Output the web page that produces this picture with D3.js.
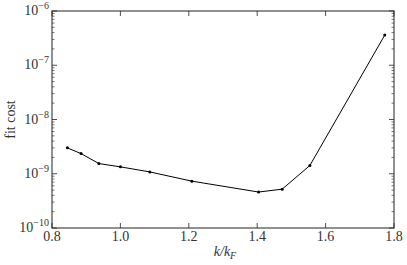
<!DOCTYPE html>
<html>
<head>
<meta charset="utf-8">
<script src="https://d3js.org/d3.v7.min.js"></script>
<style>
  body { margin: 0; background: #fff; }
  svg text { font-family: "Liberation Serif", "DejaVu Serif", serif; fill: #333; }
</style>
</head>
<body>
<div id="chart"></div>
<script>
const kRatio = [0.845, 0.885, 0.937, 1.0, 1.086, 1.209, 1.404, 1.473, 1.554, 1.773]
const fitCost = [3.0e-9, 2.35e-9, 1.54e-9, 1.34e-9, 1.08e-9, 7.3e-10, 4.6e-10, 5.2e-10, 1.42e-9, 3.6e-7]
const xTicks = [0.8, 1.0, 1.2, 1.4, 1.6, 1.8]
const yExps = [-10, -9, -8, -7, -6]

const w = 407, h = 265
const m = { top: 11, right: 13, bottom: 37, left: 52 }

const svg = d3.select("#chart").append("svg")
    .attr("width", w).attr("height", h)

const x = d3.scaleLinear().domain([0.8, 1.8]).range([m.left, w - m.right])
const y = d3.scaleLog().domain([1e-10, 1e-6]).range([h - m.bottom, m.top])

const minorY = []
for (let e = -10; e < -6; e++) {
    for (let k = 2; k <= 9; k++) minorY.push(k * Math.pow(10, e))
}

// ticks pointing inward on all four sides
const tickCol = "#222"
function addYTicks(xPos, dir) {
    svg.append("g").selectAll("line.major").data(yExps).enter().append("line")
        .attr("x1", xPos).attr("x2", xPos + dir * 5)
        .attr("y1", d => y(Math.pow(10, d))).attr("y2", d => y(Math.pow(10, d)))
        .attr("stroke", tickCol).attr("stroke-width", 0.8)
    svg.append("g").selectAll("line.minor").data(minorY).enter().append("line")
        .attr("x1", xPos).attr("x2", xPos + dir * 2.5)
        .attr("y1", d => y(d)).attr("y2", d => y(d))
        .attr("stroke", tickCol).attr("stroke-width", 0.6)
}
addYTicks(m.left, 1)
addYTicks(w - m.right, -1)

function addXTicks(yPos, dir) {
    svg.append("g").selectAll("line").data(xTicks).enter().append("line")
        .attr("x1", d => x(d)).attr("x2", d => x(d))
        .attr("y1", yPos).attr("y2", yPos + dir * 5)
        .attr("stroke", tickCol).attr("stroke-width", 0.8)
}
addXTicks(h - m.bottom, -1)
addXTicks(m.top, 1)

svg.append("rect")
    .attr("x", m.left).attr("y", m.top)
    .attr("width", w - m.left - m.right).attr("height", h - m.top - m.bottom)
    .attr("fill", "none").attr("stroke", "#222").attr("stroke-width", 1)

// tick labels
svg.append("g").selectAll("text").data(xTicks).enter().append("text")
    .attr("x", d => x(d)).attr("y", h - m.bottom + 13)
    .attr("text-anchor", "middle").attr("font-size", 14)
    .text(d => d.toFixed(1))

const yl = svg.append("g").selectAll("text").data(yExps).enter().append("text")
    .attr("x", m.left - 3).attr("y", d => y(Math.pow(10, d)) + 4)
    .attr("text-anchor", "end").attr("font-size", 14)
yl.append("tspan").text("10")
yl.append("tspan").attr("dy", -6).attr("font-size", 10).text(d => "\u2212" + (-d))

// axis labels
svg.append("text")
    .attr("transform", `translate(15,${(m.top + h - m.bottom) / 2}) rotate(-90)`)
    .attr("text-anchor", "middle").attr("font-size", 14)
    .text("fit cost")

const xl = svg.append("text")
    .attr("x", (m.left + w - m.right) / 2 + 2).attr("y", h - 9)
    .attr("text-anchor", "middle").attr("font-size", 14).attr("font-style", "italic")
xl.append("tspan").text("k/k")
xl.append("tspan").attr("dy", 3).attr("font-size", 10).text("F")

// data
const pts = kRatio.map((d, i) => [d, fitCost[i]])
svg.append("path").datum(pts)
    .attr("fill", "none").attr("stroke", "#000").attr("stroke-width", 1)
    .attr("d", d3.line().x(d => x(d[0])).y(d => y(d[1])))
svg.append("g").selectAll("circle").data(pts).enter().append("circle")
    .attr("cx", d => x(d[0])).attr("cy", d => y(d[1])).attr("r", 1.5)
    .attr("fill", "#000")
</script>
</body>
</html>
